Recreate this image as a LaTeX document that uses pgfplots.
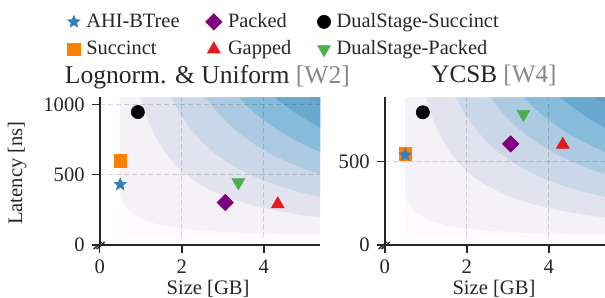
\documentclass[border=0pt]{standalone}
\usepackage{pgfplots}
\pgfplotsset{compat=1.18}
\usepackage{fontspec}
\setmainfont{Liberation Serif}
\definecolor{c0}{HTML}{FFFAFD}
\definecolor{c1}{HTML}{F4F1F7}
\definecolor{c2}{HTML}{E3E3F0}
\definecolor{c3}{HTML}{CAD7E9}
\definecolor{c4}{HTML}{ACCBE2}
\definecolor{c5}{HTML}{86BCD9}
\definecolor{c6}{HTML}{69A9D0}
\definecolor{c7}{HTML}{689CBB}
\definecolor{cblue}{HTML}{377EB8}
\definecolor{corange}{HTML}{FF7F00}
\definecolor{cpurple}{HTML}{800080}
\definecolor{cred}{HTML}{E41A1C}
\definecolor{cgreen}{HTML}{4DAF4A}
\pgfdeclareplotmark{fstar}{%
  \pgfpathmoveto{\pgfpointpolar{90}{\pgfplotmarksize}}%
  \pgfpathlineto{\pgfpointpolar{126}{0.45*\pgfplotmarksize}}%
  \pgfpathlineto{\pgfpointpolar{162}{\pgfplotmarksize}}%
  \pgfpathlineto{\pgfpointpolar{198}{0.45*\pgfplotmarksize}}%
  \pgfpathlineto{\pgfpointpolar{234}{\pgfplotmarksize}}%
  \pgfpathlineto{\pgfpointpolar{270}{0.45*\pgfplotmarksize}}%
  \pgfpathlineto{\pgfpointpolar{306}{\pgfplotmarksize}}%
  \pgfpathlineto{\pgfpointpolar{342}{0.45*\pgfplotmarksize}}%
  \pgfpathlineto{\pgfpointpolar{18}{\pgfplotmarksize}}%
  \pgfpathlineto{\pgfpointpolar{54}{0.45*\pgfplotmarksize}}%
  \pgfpathclose\pgfusepathqfillstroke}
\pgfplotsset{
  base/.style={
    scale only axis, width=110.15pt, height=73.85pt,
    xmin=0, xmax=5.37, ymin=0,
    axis lines=left, axis line style={-, line width=0.9pt, black!85},
    tick align=outside, major tick length=4pt,
    tick style={line width=0.8pt, black!85},
    xtick={0,2,4},
    /pgf/number format/assume math mode=true,
    /pgf/number format/set thousands separator={},
    ticklabel style={font=\fontsize{10.3}{12}\selectfont, text=black!85},
    label style={font=\fontsize{10.3}{12}\selectfont, text=black!85},
    axis on top, clip mode=individual,
  },
  gridl/.style={forget plot, draw=black, draw opacity=0.15, line width=0.5pt, dash pattern=on 2.5pt off 1.5pt},
  band/.style={forget plot, draw=none, fill=#1},
  mSt/.style={only marks, mark=fstar, mark size=3.2pt, mark options={fill=cblue, draw=cblue, line width=0.3pt}},
  mSq/.style={only marks, mark=square*, mark size=3.2pt, mark options={fill=corange, draw=corange, line width=0.3pt}},
  mDi/.style={only marks, mark=square*, mark size=2.9pt, mark options={rotate=45, fill=cpurple, draw=cpurple, line width=0.3pt}},
  mCi/.style={only marks, mark=*, mark size=3.3pt, mark options={fill=black, draw=black, line width=0.3pt}},
  mUp/.style={only marks, mark=triangle*, mark size=3.7pt, mark options={fill=cred, draw=cred, line width=0.3pt}},
  mDn/.style={only marks, mark=triangle*, mark size=3.7pt, mark options={rotate=180, fill=cgreen, draw=cgreen, line width=0.3pt}},
}
\begin{document}
\begin{tikzpicture}
\begin{axis}[base, at={(49.85pt,26.5pt)}, anchor=south west,
  ymax=1050, ytick={0,500,1000},
  xlabel={Size [GB]}, ylabel={Latency [ns]},
  xlabel style={at={(rel axis cs:0.492,-0.298)}, anchor=center},
  ylabel style={at={(rel axis cs:-0.375,0.487)}, anchor=center},
  legend columns=3, legend cell align=left,
  legend image code/.code={\draw[mark repeat=2,mark phase=2,#1] plot coordinates {(0pt,0pt)(4pt,0pt)(8pt,0pt)};},
  legend style={draw=none, fill=none, inner sep=0pt, at={(-0.148,1.598)}, anchor=north west,
    font=\fontsize{10.2}{12}\selectfont, text=black!85,
    nodes={inner xsep=3pt, inner ysep=1pt, text height=8pt, text depth=2.5pt},
    /tikz/every even column/.append style={column sep=10pt}, row sep=1.2pt},
]
\addlegendimage{mSt}\addlegendentry{AHI-BTree}
\addlegendimage{mDi}\addlegendentry{Packed}
\addlegendimage{mCi}\addlegendentry{DualStage-Succinct}
\addlegendimage{mSq}\addlegendentry{Succinct}
\addlegendimage{mUp}\addlegendentry{Gapped}
\addlegendimage{mDn}\addlegendentry{DualStage-Packed}
% contour bands
\addplot[band=c0] coordinates {(0.5,59)(5.37,59)(5.37,1050)(0.5,1050)};
\addplot[band=c1] coordinates {(0.5,345)(0.6,290)(0.75,235)(1.06,178)(1.5,140)(1.9,121)(2.6,100)(3.5,86)(4.4,78)(5.37,72)(5.37,1050)(0.5,1050)};
\addplot[band=c2] coordinates {(1.0,1050)(1.07,981.3)(1.15,913.0)(1.25,840.0)(1.36,772.1)(1.5,700.0)(1.65,636.4)(1.85,567.6)(2.1,500.0)(2.4,437.5)(2.8,375.0)(3.2,328.1)(3.7,283.8)(4.2,250.0)(4.8,218.75)(5.37,195.5)(5.37,1050)};
\addplot[band=c3] coordinates {(1.743,1050)(1.85,989.2)(1.98,924.2)(2.13,859.2)(2.3,795.7)(2.5,732)(2.75,665.5)(3.05,600)(3.4,538.2)(3.8,481.6)(4.3,425.6)(4.8,381.25)(5.37,340.8)(5.37,1050)};
\addplot[band=c4] coordinates {(2.571,1050)(2.7,1000)(2.85,947.4)(3.0,900)(3.2,843.75)(3.45,782.6)(3.75,720)(4.1,658.5)(4.5,600)(4.95,545.5)(5.37,502.8)(5.37,1050)};
\addplot[band=c5] coordinates {(3.381,1050)(3.5,1014.3)(3.65,972.6)(3.85,922.1)(4.1,865.9)(4.4,806.8)(4.75,747.4)(5.1,696.1)(5.37,661.1)(5.37,1050)};
\addplot[band=c6] coordinates {(4.267,1050)(4.4,1018.2)(4.6,973.9)(4.85,923.7)(5.1,878.4)(5.37,834.3)(5.37,1050)};
\addplot[band=c7] coordinates {(5.114,1050)(5.24,1024.8)(5.37,1000)(5.37,1050)};
% grid
\addplot[gridl] coordinates {(0,500)(5.37,500)};
\addplot[gridl] coordinates {(0,1000)(5.37,1000)};
\addplot[gridl] coordinates {(2,59)(2,1050)};
\addplot[gridl] coordinates {(4,59)(4,1050)};
% data
\addplot[mSq, forget plot] coordinates {(0.5,600)};
\addplot[mSt, forget plot] coordinates {(0.5,430)};
\addplot[mCi, forget plot] coordinates {(0.93,945)};
\addplot[mDi, forget plot] coordinates {(3.06,302)};
\addplot[mDn, forget plot] coordinates {(3.38,445)};
\addplot[mUp, forget plot] coordinates {(4.34,290)};
\node[anchor=base, font=\fontsize{12.8}{14}\selectfont, text=black!85] at (rel axis cs:0.489,1.09) {Lognorm. \& Uniform \textcolor{black!47}{[W2]}};
\draw[line width=0.7pt, black!85] (rel axis cs:0,0) ++(-3pt,-2pt) -- ++(4pt,3.5pt);
\draw[line width=0.7pt, black!85] (rel axis cs:0,0) ++(-1.5pt,-2pt) -- ++(4pt,3.5pt);
\end{axis}
\begin{axis}[base, at={(192.35pt,26.5pt)}, anchor=south west,
  ymax=886, ytick={0,500},
  xlabel={Size [GB]},
  xlabel style={at={(rel axis cs:0.496,-0.298)}, anchor=center},
]
\addplot[band=c0] coordinates {(0.5,50)(5.37,50)(5.37,886)(0.5,886)};
\addplot[band=c1] coordinates {(0.5,291)(0.6,245)(0.75,198)(1.06,150)(1.5,118)(1.9,102)(2.6,84)(3.5,73)(4.4,66)(5.37,61)(5.37,886)(0.5,886)};
\addplot[band=c2] coordinates {(1.0,886)(1.07,828.0)(1.15,770.4)(1.25,708.8)(1.36,651.5)(1.5,590.7)(1.65,537.0)(1.85,478.9)(2.1,421.9)(2.4,369.2)(2.8,316.4)(3.2,276.9)(3.7,239.5)(4.2,210.95)(4.8,184.6)(5.37,165.0)(5.37,886)};
\addplot[band=c3] coordinates {(1.743,886)(1.85,834.7)(1.98,779.8)(2.13,725.0)(2.3,671.4)(2.5,617.7)(2.75,561.6)(3.05,506.3)(3.4,454.1)(3.8,406.4)(4.3,359.1)(4.8,321.7)(5.37,287.6)(5.37,886)};
\addplot[band=c4] coordinates {(2.571,886)(2.7,843.8)(2.85,799.4)(3.0,759.4)(3.2,712.0)(3.45,660.4)(3.75,607.5)(4.1,555.6)(4.5,506.3)(4.95,460.3)(5.37,424.3)(5.37,886)};
\addplot[band=c5] coordinates {(3.381,886)(3.5,855.9)(3.65,820.7)(3.85,778.1)(4.1,730.6)(4.4,680.8)(4.75,630.7)(5.1,587.4)(5.37,557.8)(5.37,886)};
\addplot[band=c6] coordinates {(4.267,886)(4.4,859.2)(4.6,821.8)(4.85,779.4)(5.1,741.2)(5.37,704.0)(5.37,886)};
\addplot[band=c7] coordinates {(5.114,886)(5.24,864.7)(5.37,843.8)(5.37,886)};
\addplot[gridl] coordinates {(0,500)(5.37,500)};
\addplot[gridl] coordinates {(2,50)(2,886)};
\addplot[gridl] coordinates {(4,50)(4,886)};
\addplot[mSq, forget plot] coordinates {(0.5,545)};
\addplot[mSt, forget plot] coordinates {(0.5,540)};
\addplot[mCi, forget plot] coordinates {(0.93,796)};
\addplot[mDi, forget plot] coordinates {(3.07,606)};
\addplot[mDn, forget plot] coordinates {(3.38,785)};
\addplot[mUp, forget plot] coordinates {(4.34,602)};
\node[anchor=base, font=\fontsize{12.6}{14}\selectfont, text=black!85] at (rel axis cs:0.496,1.097) {YCSB \textcolor{black!47}{[W4]}};
\draw[line width=0.7pt, black!85] (rel axis cs:0,0) ++(-3pt,-2pt) -- ++(4pt,3.5pt);
\draw[line width=0.7pt, black!85] (rel axis cs:0,0) ++(-1.5pt,-2pt) -- ++(4pt,3.5pt);
\end{axis}
\pgfresetboundingbox
\path[use as bounding box] (0,0) rectangle (302.5pt,149pt);
\end{tikzpicture}
\end{document}
